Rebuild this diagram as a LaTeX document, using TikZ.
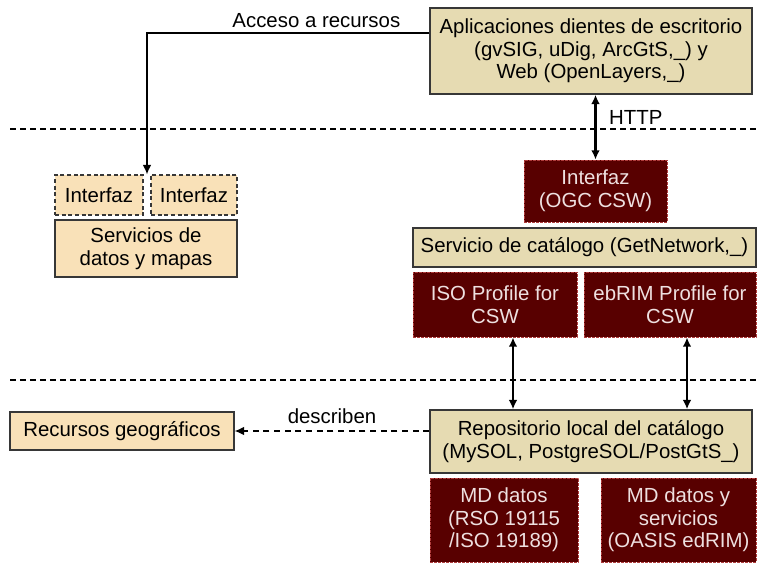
\documentclass[tikz,border=0pt]{standalone}
\usepackage{fontspec}
\setmainfont{Liberation Sans}
\usetikzlibrary{arrows.meta,calc}
\definecolor{tanfill}{RGB}{230,219,178}
\definecolor{peachfill}{RGB}{249,225,184}
\definecolor{darkfill}{RGB}{88,0,0}
\definecolor{darkedge}{RGB}{175,60,60}
\definecolor{edgegray}{RGB}{55,55,55}
\definecolor{paletext}{RGB}{238,224,224}

\begin{document}
\begin{tikzpicture}[x=0.75pt,y=-0.75pt,
    font=\fontsize{15.3}{17}\selectfont,
    box/.style={draw=edgegray,line width=1.1pt,align=center,inner sep=0pt},
    tanbox/.style={box,fill=tanfill},
    peachbox/.style={box,fill=peachfill},
    darkbox/.style={box,fill=darkfill,draw=darkedge,line width=0.6pt,dash pattern=on 2pt off 1pt,text=paletext},
    link/.style={line width=0.9pt,-{Latex[length=7pt,width=6.5pt]}},
    twoway/.style={line width=1.8pt,{Latex[length=7pt,width=6.5pt]}-{Latex[length=7pt,width=6.5pt]}},
    separator/.style={line width=1.1pt,dash pattern=on 4.5pt off 3pt}]
  % coordinates are pixels of the original figure
  \useasboundingbox (0,0) rectangle (757,562);
  % layer separators
  \draw[separator] (10,129) -- (757,129);
  \draw[separator] (10,380) -- (757,380);
  % clients
  \node[tanbox,minimum width=241.5pt,minimum height=64.5pt] (app) at (591,51)
    {Aplicaciones dientes de escritorio\\(gvSIG, uDig, ArcGtS,\_) y\\Web (OpenLayers,\_)};
  % data and map services
  \node[peachbox,dash pattern=on 3pt off 2pt,minimum width=66pt,minimum height=30pt] (ifa) at (99,195) {Interfaz};
  \node[peachbox,dash pattern=on 3pt off 2pt,minimum width=64.5pt,minimum height=30pt] (ifb) at (194,195) {Interfaz};
  \node[peachbox,minimum width=136.5pt,minimum height=42.75pt] (serv) at (146,248.5) {Servicios de\\datos y mapas};
  % catalogue service
  \node[darkbox,minimum width=107.25pt,minimum height=46.5pt] (ogc) at (595.5,191) {Interfaz\\(OGC CSW)};
  \node[tanbox,minimum width=257.25pt,minimum height=29.25pt] (cat) at (584.5,247.5) {Servicio de catálogo (GetNetwork,\_)};
  \node[darkbox,minimum width=123pt,minimum height=48.75pt] (iso) at (495,304.5) {ISO Profile for\\CSW};
  \node[darkbox,minimum width=129pt,minimum height=48.75pt] (ebrim) at (670,304.5) {ebRIM Profile for\\CSW};
  % repository
  \node[tanbox,minimum width=241.5pt,minimum height=47.25pt] (repo) at (591,441.5)
    {Repositorio local del catálogo\\(MySOL, PostgreSOL/PostGtS\_)};
  \node[darkbox,minimum width=111pt,minimum height=63pt] (mda) at (504,520)
    {MD datos\\(RSO 19115\\/ISO 19189)};
  \node[darkbox,minimum width=116.25pt,minimum height=63pt] (mdb) at (678.5,520)
    {MD datos y\\servicios\\(OASIS edRIM)};
  \node[peachbox,minimum width=168pt,minimum height=28.5pt] (rec) at (122,431) {Recursos geográficos};
  % connectors
  \coordinate (gap) at ($(ifa.north east)!0.5!(ifb.north west)$);
  \draw[link] ([yshift=13.5pt]app.west) -| node[above,pos=0.2] {Acceso a recursos} (gap);
  \draw[twoway] (ogc.north |- app.south) -- node[right=6pt,pos=0.35] {HTTP} (ogc.north);
  \coordinate (isoout) at ([xshift=13.5pt]iso.south);
  \coordinate (ebout) at ([xshift=12.75pt]ebrim.south);
  \draw[twoway] (isoout) -- (isoout |- repo.north);
  \draw[twoway] (ebout) -- (ebout |- repo.north);
  \draw[link,dash pattern=on 4.5pt off 3.5pt] (repo.west |- rec.east) -- node[above=2pt] {describen} (rec.east);
\end{tikzpicture}
\end{document}
